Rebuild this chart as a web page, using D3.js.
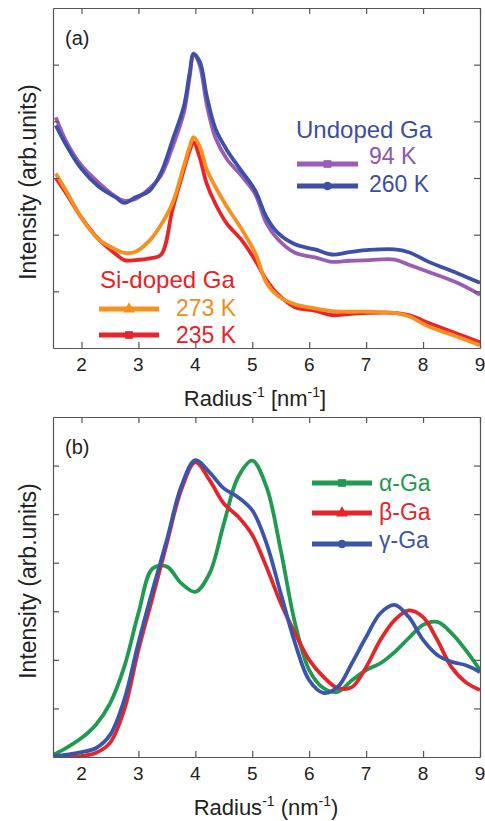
<!DOCTYPE html>
<html>
<head>
<meta charset="utf-8">
<script src="https://cdn.jsdelivr.net/npm/d3@7"></script>
<style>
  body { margin: 0; background: #fff; }
  svg { display: block; font-family: "Liberation Sans", Arial, sans-serif; }
</style>
</head>
<body>
<div id="chart"></div>
<script>
// ---- panel (a): measured curves ----
const xA = [1.55, 1.75, 2.0, 2.3, 2.6, 2.75, 2.95, 3.2, 3.4, 3.6, 3.8, 3.9, 3.97, 4.08, 4.2, 4.35, 4.55, 4.8, 5.05, 5.25, 5.45, 5.75, 6.1, 6.4, 6.7, 7.05, 7.5, 7.75, 8.1, 8.6, 9.0];
const undoped94 = [4.07, 3.61, 3.22, 2.92, 2.67, 2.6, 2.63, 2.82, 3.05, 3.55, 4.16, 4.78, 5.2, 4.98, 4.3, 3.72, 3.34, 3.05, 2.72, 2.2, 1.92, 1.68, 1.6, 1.52, 1.54, 1.55, 1.56, 1.47, 1.34, 1.15, 0.94];
const undoped260 = [3.93, 3.55, 3.16, 2.85, 2.66, 2.56, 2.66, 2.78, 3.1, 3.67, 4.27, 4.85, 5.18, 5.05, 4.45, 3.88, 3.5, 3.14, 2.78, 2.31, 2.03, 1.83, 1.74, 1.65, 1.69, 1.73, 1.74, 1.69, 1.52, 1.32, 1.15];
const sidoped273 = [3.08, 2.74, 2.3, 1.92, 1.74, 1.68, 1.7, 1.9, 2.18, 2.56, 3.22, 3.55, 3.72, 3.55, 3.15, 2.85, 2.5, 2.12, 1.68, 1.15, 0.92, 0.77, 0.7, 0.65, 0.64, 0.64, 0.62, 0.56, 0.38, 0.2, 0.05];
const sidoped235 = [3.0, 2.7, 2.3, 1.92, 1.66, 1.55, 1.55, 1.58, 1.65, 2.45, 3.15, 3.48, 3.63, 3.35, 2.9, 2.55, 2.2, 1.92, 1.55, 1.2, 0.95, 0.72, 0.66, 0.58, 0.6, 0.62, 0.62, 0.58, 0.44, 0.25, 0.1];

// ---- panel (b): simulated curves ----
const xB = [1.5, 1.75, 2, 2.25, 2.5, 2.75, 3, 3.25, 3.5, 3.75, 4, 4.25, 4.5, 4.75, 5, 5.25, 5.5, 5.75, 6, 6.25, 6.5, 6.75, 7, 7.25, 7.5, 7.75, 8, 8.25, 8.5, 8.75, 9];
const alphaGa = [0.04, 0.2, 0.39, 0.66, 1.1, 1.85, 2.96, 3.88, 3.92, 3.58, 3.4, 3.78, 4.8, 5.76, 6.1, 5.56, 4.26, 2.76, 1.79, 1.42, 1.34, 1.58, 1.79, 1.93, 2.16, 2.45, 2.72, 2.78, 2.55, 2.2, 1.79];
const betaGa = [0, 0.01, 0.02, 0.08, 0.29, 0.97, 2.2, 3.29, 4.4, 5.49, 6.07, 5.7, 5.22, 4.95, 4.57, 3.91, 3.17, 2.55, 2.0, 1.65, 1.42, 1.44, 1.85, 2.41, 2.82, 3.02, 2.88, 2.41, 1.85, 1.54, 1.38];
const gammaGa = [0.02, 0.05, 0.1, 0.18, 0.45, 1.17, 2.35, 3.44, 4.47, 5.56, 6.11, 5.86, 5.53, 5.35, 5.08, 4.4, 3.37, 2.35, 1.58, 1.32, 1.44, 1.93, 2.47, 2.96, 3.13, 2.88, 2.41, 2.1, 1.96, 1.89, 1.75];

const xTicks = [2, 3, 4, 5, 6, 7, 8, 9];

const W = 485, H = 821;
const svg = d3.select("#chart").append("svg").attr("width", W).attr("height", H);

const x = d3.scaleLinear().domain([1.5, 9]).range([53, 480]);

function panel(cfg) {
    const y = d3.scaleLinear().domain([0, cfg.ymax]).range([cfg.bottom, cfg.top]);
    const g = svg.append("g");

    // clip so curves stay inside the frame
    g.append("clipPath").attr("id", cfg.id + "clip")
        .append("rect")
        .attr("x", 53).attr("y", cfg.top)
        .attr("width", 427).attr("height", cfg.bottom - cfg.top);

    const line = d3.line()
        .x(d => x(d[0]))
        .y(d => y(d[1]))
        .curve(d3.curveCatmullRom.alpha(0.5));

    cfg.series.forEach(s => {
        g.append("path")
            .datum(cfg.xs.map((v, i) => [v, s.values[i]]))
            .attr("clip-path", "url(#" + cfg.id + "clip)")
            .attr("fill", "none")
            .attr("stroke", s.color)
            .attr("stroke-width", 3.8)
            .attr("stroke-linejoin", "round")
            .attr("d", line);
    });

    // frame with inward ticks on all four sides
    const yTicks = d3.range(1, cfg.ymax);
    const frameColor = "#555";
    g.append("g").attr("transform", "translate(0," + cfg.bottom + ")")
        .call(d3.axisBottom(x).tickValues(xTicks).tickSizeInner(-6).tickSizeOuter(0).tickFormat(""));
    g.append("g").attr("transform", "translate(0," + cfg.top + ")")
        .call(d3.axisTop(x).tickValues(xTicks).tickSizeInner(-6).tickSizeOuter(0).tickFormat(""));
    g.append("g").attr("transform", "translate(53,0)")
        .call(d3.axisLeft(y).tickValues(yTicks).tickSizeInner(-6).tickSizeOuter(0).tickFormat(""));
    g.append("g").attr("transform", "translate(480,0)")
        .call(d3.axisRight(y).tickValues(yTicks).tickSizeInner(-6).tickSizeOuter(0).tickFormat(""));
    g.selectAll(".domain, .tick line").attr("stroke", frameColor).attr("stroke-width", 1.2);

    // tick labels
    g.selectAll(".xlab").data(xTicks).enter().append("text")
        .attr("x", d => x(d)).attr("y", cfg.bottom + 23)
        .attr("text-anchor", "middle")
        .attr("font-size", 19).attr("fill", "#222")
        .text(d => d);

    // panel label
    g.append("text").attr("x", 65).attr("y", cfg.top + 37)
        .attr("font-size", 20).attr("fill", "#222").text(cfg.label);

    // x title with superscripts
    const t = g.append("text").attr("x", cfg.titleX).attr("y", cfg.bottom + 58)
        .attr("text-anchor", "middle").attr("font-size", 22).attr("fill", "#222");
    t.append("tspan").text("Radius");
    t.append("tspan").attr("font-size", 14).attr("dy", -9).text("-1");
    t.append("tspan").attr("dy", 9).text(" " + cfg.unitOpen + "nm");
    t.append("tspan").attr("font-size", 14).attr("dy", -9).text("-1");
    t.append("tspan").attr("dy", 9).text(cfg.unitClose);

    // y title
    g.append("text")
        .attr("transform", "translate(36," + cfg.yTitleY + ") rotate(-90)")
        .attr("text-anchor", "middle").attr("font-size", 23).attr("fill", "#222")
        .text("Intensity (arb.units)");

    return g;
}

function marker(g, shape, cx, cy, color) {
    const sym = { square: d3.symbolSquare, circle: d3.symbolCircle, triangle: d3.symbolTriangle }[shape];
    g.append("path")
        .attr("transform", "translate(" + cx + "," + cy + ")")
        .attr("d", d3.symbol().type(sym).size(60))
        .attr("fill", color);
}

function legendEntry(g, x1, x2, ly, color, shape, tx, ty, label, textColor) {
    g.append("line").attr("x1", x1).attr("x2", x2).attr("y1", ly).attr("y2", ly)
        .attr("stroke", color).attr("stroke-width", 5);
    marker(g, shape, (x1 + x2) / 2, ly, color);
    g.append("text").attr("x", tx).attr("y", ty)
        .attr("font-size", 23).attr("fill", textColor).text(label);
}

// colours
const cPurple = "#9a5db6", cBlue = "#3d4fa6", cOrange = "#f7901f", cRed = "#e8252b";
const cGreen = "#1f9a4e", cRedB = "#e2262c", cBlueB = "#3b55a8";

const ga = panel({
    id: "a", top: 8, bottom: 348, ymax: 6, label: "(a)",
    xs: xA, titleX: 255, yTitleY: 182, unitOpen: "[", unitClose: "]",
    series: [
        { values: undoped94, color: cPurple },
        { values: undoped260, color: cBlue },
        { values: sidoped235, color: cRed },
        { values: sidoped273, color: cOrange }
    ]
});

ga.append("text").attr("x", 296).attr("y", 138).attr("font-size", 24)
    .attr("fill", "#3b4ea5").text("Undoped Ga");
legendEntry(ga, 297, 358, 164, cPurple, "square", 369, 164, "94 K", "#8c58ad");
legendEntry(ga, 297, 358, 186, cBlue, "circle", 369, 192, "260 K", "#3b4ea5");

ga.append("text").attr("x", 100).attr("y", 288).attr("font-size", 24)
    .attr("fill", "#ec2027").text("Si-doped Ga");
legendEntry(ga, 99, 159, 309, cOrange, "triangle", 176, 316, "273 K", "#f48a1e");
legendEntry(ga, 99, 159, 335, cRed, "square", 176, 343, "235 K", "#ec2027");

const gb = panel({
    id: "b", top: 417, bottom: 757, ymax: 7, label: "(b)",
    xs: xB, titleX: 266, yTitleY: 581, unitOpen: "(", unitClose: ")",
    series: [
        { values: alphaGa, color: cGreen },
        { values: betaGa, color: cRedB },
        { values: gammaGa, color: cBlueB }
    ]
});

legendEntry(gb, 312, 372, 483, cGreen, "square", 379, 491, "α-Ga", cGreen);
legendEntry(gb, 312, 372, 513, cRedB, "triangle", 379, 520, "β-Ga", cRedB);
legendEntry(gb, 312, 372, 544, cBlueB, "circle", 379, 548, "γ-Ga", cBlueB);
</script>
</body>
</html>
